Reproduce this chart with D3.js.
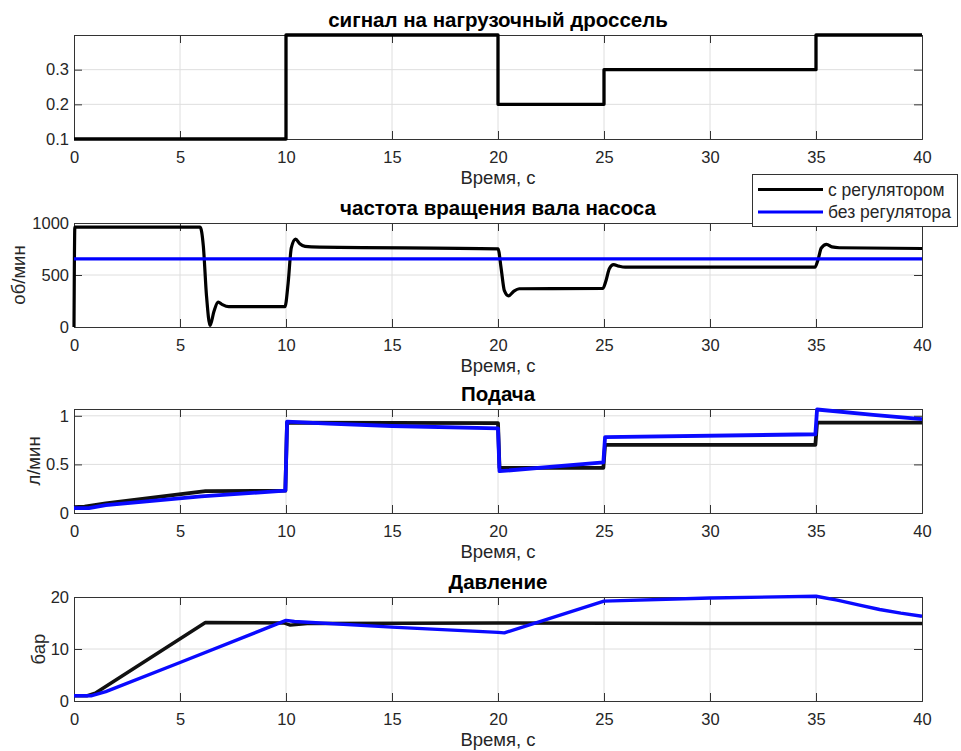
<!DOCTYPE html>
<html>
<head>
<meta charset="utf-8">
<script src="https://cdnjs.cloudflare.com/ajax/libs/d3/7.8.5/d3.min.js"></script>
<style>
  body { margin: 0; background: #fff; }
  svg text { font-family: "Liberation Sans", Arial, sans-serif; fill: #262626; }
</style>
</head>
<body>
<div id="chart"></div>
<script>
// time axis ticks (shared by all panels)
var xTicks = [0, 5, 10, 15, 20, 25, 30, 35, 40];

// panel 1 - throttle signal (step)
var signalTime = [0, 10, 20, 25, 35, 40];
var signalValue = [0.1, 0.4, 0.2, 0.3, 0.4, 0.4];

// panel 2 - pump shaft speed, rpm
var speedRegTime = [0, 0.04, 0.1, 5.95, 6.1, 6.25, 6.42, 6.6, 6.8, 7.0, 7.3, 9.95, 10.1, 10.25, 10.45, 10.65, 10.9, 11.2, 20.0, 20.15, 20.3, 20.5, 20.75, 21.0, 24.95, 25.1, 25.25, 25.45, 25.7, 26.0, 34.95, 35.1, 35.25, 35.5, 35.75, 36.1, 40];
var speedReg = [0, 960, 960, 960, 780, 300, 15, 150, 240, 215, 195, 195, 420, 760, 845, 800, 775, 770, 752, 560, 350, 300, 345, 368, 372, 450, 560, 600, 585, 575, 575, 650, 760, 795, 770, 762, 755];
var speedNoRegTime = [0, 40];
var speedNoReg = [655, 655];

// panel 3 - flow, l/min
var flowRegTime = [0, 0.5, 1.5, 6.2, 9.97, 10.05, 20.0, 20.07, 24.97, 25.05, 34.97, 35.05, 40];
var flowReg = [0.06, 0.065, 0.1, 0.225, 0.23, 0.93, 0.925, 0.465, 0.465, 0.70, 0.70, 0.93, 0.93];
var flowNoRegTime = [0, 0.7, 1.5, 6.0, 9.97, 10.05, 12, 15, 20.0, 20.07, 24.97, 25.05, 34.97, 35.05, 37.7, 40];
var flowNoReg = [0.05, 0.05, 0.08, 0.17, 0.23, 0.94, 0.92, 0.895, 0.87, 0.43, 0.52, 0.78, 0.81, 1.065, 1.01, 0.965];

// panel 4 - pressure, bar
var pressRegTime = [0, 0.6, 1.0, 6.2, 9.9, 10.2, 11.0, 20, 30, 40];
var pressReg = [1.0, 1.0, 1.5, 15.1, 15.0, 14.6, 14.9, 15.0, 14.9, 14.9];
var pressNoRegTime = [0, 0.8, 1.5, 5, 10, 10.4, 15, 20, 20.3, 25, 30, 35, 36, 37, 38, 39, 40];
var pressNoReg = [1.0, 1.0, 1.8, 7.4, 15.5, 15.3, 14.2, 13.2, 13.1, 19.2, 19.8, 20.15, 19.4, 18.5, 17.6, 16.9, 16.3];

var titles = ['сигнал на нагрузочный дроссель', 'частота вращения вала насоса', 'Подача', 'Давление'];
var yLabels = ['', 'об/мин', 'л/мин', 'бар'];
var yDomains = [[0.1, 0.4], [0, 1000], [0, 1.07], [0, 20]];
var yTicks = [[0.1, 0.2, 0.3], [0, 500, 1000], [0, 0.5, 1], [0, 10, 20]];
var legendNames = ['с регулятором', 'без регулятора'];

function zip(t, v) {
  return t.map(function(d, i) { return [d, v[i]]; });
}

var panels = [
  { series: [{ data: zip(signalTime, signalValue), color: '#000', width: 3.3, curve: d3.curveStepAfter }] },
  { series: [
      { data: zip(speedRegTime, speedReg), color: '#000', width: 3.2, curve: d3.curveMonotoneX },
      { data: zip(speedNoRegTime, speedNoReg), color: '#0000ff', width: 3.2, curve: d3.curveLinear }
  ] },
  { series: [
      { data: zip(flowRegTime, flowReg), color: '#111', width: 3.8, curve: d3.curveLinear },
      { data: zip(flowNoRegTime, flowNoReg), color: '#0a0aff', width: 3.8, curve: d3.curveLinear }
  ] },
  { series: [
      { data: zip(pressRegTime, pressReg), color: '#111', width: 3.4, curve: d3.curveLinear },
      { data: zip(pressNoRegTime, pressNoReg), color: '#0a0aff', width: 3.4, curve: d3.curveLinear }
  ] }
];

var W = 961, H = 751;
var left = 74, right = 922;
var tops = [35, 223, 409, 597];
var ph = 104;
var tickLen = 8;
var axisColor = '#333';
var ylabelX = [0, 25, 40, 44.5];
var tickFont = 16.5, labelFont = 18.5, titleFont = 20.5;

var svg = d3.select('#chart')
  .append('svg')
  .attr('width', W)
  .attr('height', H);

var x = d3.scaleLinear().domain([0, 40]).range([left, right]);

panels.forEach(function(p, i) {
  var top = tops[i], bottom = top + ph;
  var y = d3.scaleLinear().domain(yDomains[i]).range([bottom, top]);
  var g = svg.append('g');

  // grid
  g.selectAll('.gx')
    .data(xTicks.slice(1, -1))
    .enter()
    .append('line')
    .attr('x1', function(d) { return x(d); })
    .attr('x2', function(d) { return x(d); })
    .attr('y1', top)
    .attr('y2', bottom)
    .attr('stroke', '#dedede');
  g.selectAll('.gy')
    .data(yTicks[i].filter(function(d) { return y(d) > top + 0.5 && y(d) < bottom - 0.5; }))
    .enter()
    .append('line')
    .attr('x1', left)
    .attr('x2', right)
    .attr('y1', function(d) { return y(d); })
    .attr('y2', function(d) { return y(d); })
    .attr('stroke', '#dedede');

  // axes: bottom / left with labels, top / right as box with inner ticks
  g.append('g')
    .attr('transform', 'translate(0,' + bottom + ')')
    .call(d3.axisBottom(x).tickValues(xTicks).tickSize(-tickLen).tickPadding(12));
  g.append('g')
    .attr('transform', 'translate(0,' + top + ')')
    .call(d3.axisTop(x).tickValues(xTicks).tickSize(-tickLen).tickFormat(''));
  g.append('g')
    .attr('transform', 'translate(' + left + ',0)')
    .call(d3.axisLeft(y).tickValues(yTicks[i]).tickSize(-tickLen).tickPadding(5)
      .tickFormat(d3.format('~g')));
  g.append('g')
    .attr('transform', 'translate(' + right + ',0)')
    .call(d3.axisRight(y).tickValues(yTicks[i]).tickSize(-tickLen).tickFormat(''));

  g.selectAll('.domain').attr('stroke', axisColor).attr('stroke-width', 1);
  g.selectAll('.tick line').attr('stroke', axisColor);
  g.selectAll('.tick text')
    .attr('font-size', tickFont)
    .style('font-family', '"Liberation Sans", Arial, sans-serif')
    .attr('fill', '#262626');

  // data lines
  p.series.forEach(function(s) {
    var line = d3.line()
      .x(function(d) { return x(d[0]); })
      .y(function(d) { return y(d[1]); })
      .curve(s.curve);
    g.append('path')
      .datum(s.data)
      .attr('d', line)
      .attr('fill', 'none')
      .attr('stroke', s.color)
      .attr('stroke-width', s.width)
      .attr('stroke-linejoin', 'round');
  });

  // title
  g.append('text')
    .attr('x', (left + right) / 2)
    .attr('y', top - 8)
    .attr('text-anchor', 'middle')
    .attr('font-size', titleFont)
    .attr('font-weight', 'bold')
    .style('fill', '#000')
    .text(titles[i]);

  // x label
  g.append('text')
    .attr('x', (left + right) / 2)
    .attr('y', bottom + 45)
    .attr('text-anchor', 'middle')
    .attr('font-size', labelFont)
    .text('Время, с');

  // y label
  if (yLabels[i]) {
    g.append('text')
      .attr('transform', 'translate(' + ylabelX[i] + ',' + (top + ph / 2) + ') rotate(-90)')
      .attr('text-anchor', 'middle')
      .attr('font-size', labelFont)
      .text(yLabels[i]);
  }
});

// legend
var legend = svg.append('g');
legend.append('rect')
  .attr('x', 752.5)
  .attr('y', 174.5)
  .attr('width', 205)
  .attr('height', 52)
  .attr('fill', '#fff')
  .attr('stroke', axisColor);
var legendColors = ['#000', '#0000ff'];
var legendY = [189.5, 212];
legendNames.forEach(function(name, i) {
  legend.append('line')
    .attr('x1', 758)
    .attr('x2', 823)
    .attr('y1', legendY[i])
    .attr('y2', legendY[i])
    .attr('stroke', legendColors[i])
    .attr('stroke-width', 3.2);
  legend.append('text')
    .attr('x', 828)
    .attr('y', legendY[i])
    .attr('dy', '0.35em')
    .attr('font-size', 17.5)
    .text(name);
});
</script>
</body>
</html>
